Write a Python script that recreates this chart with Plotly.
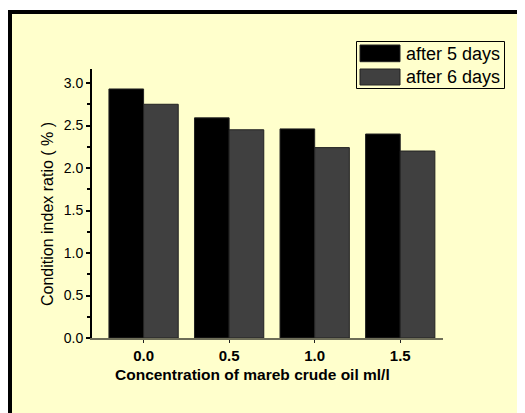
import plotly.graph_objects as go

categories = ["0.0", "0.5", "1.0", "1.5"]
after5 = [2.93, 2.59, 2.46, 2.40]
after6 = [2.75, 2.45, 2.24, 2.20]
series_names = ["after 5 days", "after 6 days"]
y_ticks = [0.0, 0.5, 1.0, 1.5, 2.0, 2.5, 3.0]

# page body has an 8px margin, so the figure is laid out 8px in from the window corner
OFF = 8
W, H = 525 - OFF, 413 - OFF
ML, MR, MT = 92 - OFF, 82, 69 - OFF
PLOT_BOTTOM = 338 - OFF
MB = H - PLOT_BOTTOM
PW, PH = W - ML - MR, H - MT - MB

def px(x):
    return (x - OFF - ML) / PW

def py(y):
    return (H - MB - (y - OFF)) / PH

YEL = "#FFFFCC"
BLACK = "#000000"
GRAY = "#404040"
FONT = "Arial, Liberation Sans, sans-serif"

xpos = list(range(len(categories)))

fig = go.Figure()
fig.add_trace(go.Bar(x=xpos, y=after5, name=series_names[0],
                     marker=dict(color=BLACK, line=dict(color="#222222", width=1))))
fig.add_trace(go.Bar(x=xpos, y=after6, name=series_names[1],
                     marker=dict(color=GRAY, line=dict(color="#222222", width=1))))

shapes = [
    # outer frame: yellow fill plus thick left and top edges only
    dict(type="rect", xref="paper", yref="paper", x0=px(10), x1=px(525), y0=py(413), y1=py(12),
         line=dict(width=0), fillcolor=YEL, layer="below"),
    dict(type="line", xref="paper", yref="paper", x0=px(10), x1=px(10), y0=py(413), y1=py(10),
         line=dict(color=BLACK, width=4), layer="below"),
    dict(type="line", xref="paper", yref="paper", x0=px(8), x1=px(525), y0=py(12), y1=py(12),
         line=dict(color=BLACK, width=4), layer="below"),
    # legend box
    dict(type="rect", xref="paper", yref="paper", x0=px(356.5), x1=px(504.5), y0=py(88.5), y1=py(41.5),
         line=dict(color=BLACK, width=1), fillcolor=YEL, layer="above"),
    dict(type="rect", xref="paper", yref="paper", x0=px(360), x1=px(400), y0=py(61.7), y1=py(45),
         line=dict(color="#222222", width=1), fillcolor=BLACK, layer="above"),
    dict(type="rect", xref="paper", yref="paper", x0=px(360), x1=px(400), y0=py(85), y1=py(69),
         line=dict(color="#222222", width=1), fillcolor=GRAY, layer="above"),
]

annotations = [
    dict(text=series_names[0], xref="paper", yref="paper", x=px(404), y=py(54), xanchor="left",
         yanchor="middle", showarrow=False, font=dict(family=FONT, size=18, color=BLACK)),
    dict(text=series_names[1], xref="paper", yref="paper", x=px(404), y=py(77), xanchor="left",
         yanchor="middle", showarrow=False, font=dict(family=FONT, size=18, color=BLACK)),
    dict(text="<b>Concentration of mareb crude oil ml/l</b>", xref="paper", yref="paper",
         x=px(252), y=py(375), xanchor="center", yanchor="middle", showarrow=False,
         font=dict(family=FONT, size=15.5, color=BLACK)),
    dict(text="Condition index ratio ( % )", xref="paper", yref="paper",
         x=px(47), y=py(214), xanchor="center", yanchor="middle", showarrow=False, textangle=-90,
         font=dict(family=FONT, size=16, color=BLACK)),
]

fig.update_layout(
    width=W, height=H,
    margin=dict(l=ML, r=MR, t=MT, b=MB, pad=0),
    paper_bgcolor="white",
    plot_bgcolor="rgba(0,0,0,0)",
    barmode="group", bargap=0.19, bargroupgap=0,
    showlegend=False,
    shapes=shapes,
    annotations=annotations,
    font=dict(family=FONT, color=BLACK),
    xaxis=dict(
        range=[-0.603, 3.5], tickmode="array", tickvals=xpos,
        ticktext=["<b>%s</b>" % c for c in categories],
        showline=True, linecolor="#6e6e58", linewidth=2,
        ticks="outside", ticklen=3, tickcolor="#222222", tickwidth=1,
        showgrid=False, zeroline=False,
        tickfont=dict(family=FONT, size=15, color=BLACK),
    ),
    yaxis=dict(
        range=[0, 3.165], tickmode="array", tickvals=y_ticks,
        ticktext=["%.1f" % v for v in y_ticks],
        showline=True, linecolor=BLACK, linewidth=2,
        ticks="outside", ticklen=4, tickcolor=BLACK, tickwidth=1.5,
        minor=dict(ticks="outside", ticklen=3, dtick=0.25, tickcolor=BLACK, tickwidth=1.5),
        showgrid=False, zeroline=False,
        tickfont=dict(family=FONT, size=14, color=BLACK),
    ),
)

fig.write_html("out.html")
